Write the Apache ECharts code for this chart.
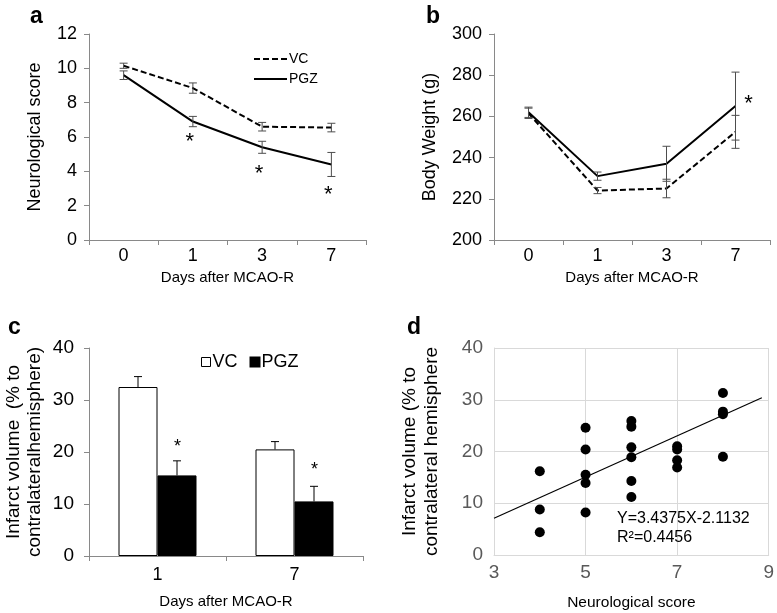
<!DOCTYPE html>
<html>
<head>
<meta charset="utf-8">
<script src="https://cdn.jsdelivr.net/npm/echarts@6/dist/echarts.min.js"></script>
<style>html,body{margin:0;padding:0;background:#fff}#main{width:777px;height:613px}</style>
</head>
<body>
<div id="main"></div>
<script>
// ---- Data ----
const daysA = ['0', '1', '3', '7'];
const vcScore = [10.15, 8.85, 6.6, 6.55];
const vcScoreErr = [0.15, 0.3, 0.25, 0.25];
const pgzScore = [9.6, 6.9, 5.4, 4.4];
const pgzScoreErr = [0.25, 0.3, 0.35, 0.7];
const scoreStarY = [null, 5.7, 3.85, 2.6];

const vcWeight = [261.5, 224, 225, 252.5];
const vcWeightErr = [2.5, 1.5, 4.5, 8];
const pgzWeight = [262, 231, 237, 265];
const pgzWeightErr = [2.5, 2, 8.5, 16.5];
const weightStarY = [null, null, null, 266];

const daysC = ['1', '7'];
const vcInfarct = [32.5, 20.5];
const vcInfarctErr = [2, 1.5];
const pgzInfarct = [15.5, 10.5];
const pgzInfarctErr = [2.8, 2.9];
const infarctStarY = [21, 16.5];

const scatterScore = [4, 4, 4, 5, 5, 5, 5, 5, 6, 6, 6, 6, 6, 6, 7, 7, 7, 7, 8, 8, 8, 8];
const scatterInfarct = [16.2, 8.8, 4.4, 24.6, 20.4, 15.5, 13.9, 8.2, 25.9, 24.8, 20.8, 18.9, 14.3, 11.2, 21.0, 20.4, 18.3, 16.9, 31.3, 27.7, 27.2, 19.0];
const fitX = [3, 8.85];
const fitY = [7.1, 30.4];

const yTicksA = [0, 12, 2];
const yTicksB = [200, 300, 20];
const yTicksC = [0, 40, 10];
const xTicksD = [3, 9, 2];
const yTicksD = [0, 40, 10];

// ---- Helpers ----
const FONT = '"Liberation Sans", Arial, sans-serif';
const AXIS_GRAY = '#898989';
const ERR_GRAY = '#4d4d4d';

function errBars(xi, yi, vals, errs, opts) {
  return {
    type: 'custom', xAxisIndex: xi, yAxisIndex: yi, silent: true, z: 4,
    data: vals.map((v, i) => [i, v, errs[i]]),
    renderItem: function (params, api) {
      const i = api.value(0), v = api.value(1), e = api.value(2);
      const hi = api.coord([i, v + e]);
      const lo = api.coord([i, opts.upOnly ? v : v - e]);
      const x = hi[0] + (opts.offset || 0);
      const c = opts.cap / 2;
      const st = { stroke: opts.color, lineWidth: 1 };
      const ch = [
        { type: 'line', shape: { x1: x, y1: hi[1], x2: x, y2: lo[1] }, style: st },
        { type: 'line', shape: { x1: x - c, y1: hi[1], x2: x + c, y2: hi[1] }, style: st }
      ];
      if (!opts.upOnly) ch.push({ type: 'line', shape: { x1: x - c, y1: lo[1], x2: x + c, y2: lo[1] }, style: st });
      return { type: 'group', children: ch };
    }
  };
}

function stars(xi, yi, ys, opts) {
  return {
    type: 'custom', xAxisIndex: xi, yAxisIndex: yi, silent: true, z: 5,
    data: ys.map((v, i) => [i, v]).filter(d => d[1] != null),
    renderItem: function (params, api) {
      const p = api.coord([api.value(0), api.value(1)]);
      return {
        type: 'text', x: p[0] + (opts.offset || 0), y: p[1],
        style: { text: '*', fontSize: opts.size, fontFamily: FONT, fill: '#000', align: 'center', verticalAlign: 'middle' }
      };
    }
  };
}

function catAxis(gi, data, name, fs, margin, gap) {
  return {
    type: 'category', gridIndex: gi, data: data, boundaryGap: true,
    axisLine: { lineStyle: { color: AXIS_GRAY, width: 1 } },
    axisTick: { show: true, alignWithLabel: false, length: 5, lineStyle: { color: AXIS_GRAY } },
    axisLabel: { fontSize: fs, color: '#000', fontFamily: FONT, margin: margin },
    name: name, nameLocation: 'middle', nameGap: gap,
    nameTextStyle: { fontSize: 15, color: '#000', fontFamily: FONT }
  };
}

function valAxis(gi, t, name, gap, fs, margin, nameSize, lh) {
  return {
    type: 'value', gridIndex: gi, min: t[0], max: t[1], interval: t[2],
    axisLine: { show: true, lineStyle: { color: AXIS_GRAY, width: 1 } },
    axisTick: { show: true, length: 5, lineStyle: { color: AXIS_GRAY } },
    splitLine: { show: false },
    axisLabel: { fontSize: fs, color: '#000', fontFamily: FONT, margin: margin },
    name: name, nameLocation: 'middle', nameRotate: 90, nameGap: gap,
    nameTextStyle: { fontSize: nameSize, color: '#000', fontFamily: FONT, lineHeight: lh }
  };
}

const chart = echarts.init(document.getElementById('main'));
const option = {
  animation: false,
  backgroundColor: '#fff',
  textStyle: { fontFamily: FONT },
  title: [
    { text: 'a', left: 25, top: 0, textStyle: { fontSize: 23, fontWeight: 'bold', color: '#000', fontFamily: FONT } },
    { text: 'b', left: 421, top: 0, textStyle: { fontSize: 23, fontWeight: 'bold', color: '#000', fontFamily: FONT } },
    { text: 'c', left: 3, top: 311, textStyle: { fontSize: 23, fontWeight: 'bold', color: '#000', fontFamily: FONT } },
    { text: 'd', left: 402, top: 311, textStyle: { fontSize: 23, fontWeight: 'bold', color: '#000', fontFamily: FONT } }
  ],
  legend: [
    {
      data: ['VC', 'PGZ'], orient: 'vertical', left: 248, top: 47,
      itemWidth: 33, itemHeight: 14, itemGap: 6,
      itemStyle: { opacity: 0 },
      textStyle: { fontSize: 14, color: '#000', fontFamily: FONT, padding: [0, 0, 0, -3] },
      selectedMode: false
    },
    {
      data: [
        { name: 'VC_bar', icon: 'rect', itemStyle: { color: '#fff', borderColor: '#000', borderWidth: 1 } },
        { name: 'PGZ_bar', icon: 'rect', itemStyle: { color: '#000' } }
      ],
      formatter: n => n.replace('_bar', ''),
      orient: 'horizontal', left: 196, top: 348,
      itemWidth: 9, itemHeight: 9, itemGap: 12,
      textStyle: { fontSize: 18, color: '#000', fontFamily: FONT, padding: [0, 0, 0, -3] },
      selectedMode: false
    }
  ],
  grid: [
    { left: 89, top: 34, width: 277, height: 206 },
    { left: 494, top: 34, width: 276, height: 206 },
    { left: 89, top: 348, width: 274, height: 208 },
    { left: 494, top: 348, width: 277, height: 207 }
  ],
  xAxis: [
    catAxis(0, daysA, 'Days after MCAO-R', 18, 7, 30),
    catAxis(1, daysA, 'Days after MCAO-R', 18, 7, 30),
    catAxis(2, daysC, 'Days after MCAO-R', 18, 10, 38),
    {
      type: 'value', gridIndex: 3, min: xTicksD[0], max: xTicksD[1], interval: xTicksD[2],
      axisLine: { show: true, lineStyle: { color: '#d9d9d9' } },
      axisTick: { show: false },
      splitLine: { show: true, lineStyle: { color: '#d9d9d9', width: 1 } },
      axisLabel: { fontSize: 19, color: '#595959', fontFamily: FONT, margin: 8 },
      name: 'Neurological score', nameLocation: 'middle', nameGap: 40,
      nameTextStyle: { fontSize: 15.5, color: '#000', fontFamily: FONT }
    }
  ],
  yAxis: [
    valAxis(0, yTicksA, 'Neurological score', 43, 18, 12, 18, 22),
    valAxis(1, yTicksB, 'Body Weight (g)', 53, 18, 12, 18, 22),
    valAxis(2, yTicksC, 'Infarct volume  (% to\ncontralateralhemisphere)', 44, 19, 15, 19, 21),
    {
      type: 'value', gridIndex: 3, min: yTicksD[0], max: yTicksD[1], interval: yTicksD[2],
      axisLine: { show: true, lineStyle: { color: '#d9d9d9' } },
      axisTick: { show: false },
      splitLine: { show: true, lineStyle: { color: '#d9d9d9', width: 1 } },
      axisLabel: { fontSize: 19, color: '#595959', fontFamily: FONT, margin: 11 },
      name: 'Infarct volume (% to\ncontralateral hemisphere', nameLocation: 'middle', nameRotate: 90, nameGap: 51,
      nameTextStyle: { fontSize: 19, color: '#000', fontFamily: FONT, lineHeight: 22 }
    }
  ],
  series: [
    // Panel a
    { name: 'VC', type: 'line', xAxisIndex: 0, yAxisIndex: 0, data: vcScore, symbol: 'none', z: 3,
      lineStyle: { color: '#000', width: 2, type: [6, 3] }, itemStyle: { color: '#000' } },
    { name: 'PGZ', type: 'line', xAxisIndex: 0, yAxisIndex: 0, data: pgzScore, symbol: 'none', z: 3,
      lineStyle: { color: '#000', width: 2 }, itemStyle: { color: '#000' } },
    errBars(0, 0, vcScore, vcScoreErr, { cap: 8, color: ERR_GRAY }),
    errBars(0, 0, pgzScore, pgzScoreErr, { cap: 8, color: ERR_GRAY }),
    stars(0, 0, scoreStarY, { size: 22, offset: -3 }),
    // Panel b
    { name: 'VC_bw', type: 'line', xAxisIndex: 1, yAxisIndex: 1, data: vcWeight, symbol: 'none', z: 3,
      lineStyle: { color: '#000', width: 2, type: [6, 3] } },
    { name: 'PGZ_bw', type: 'line', xAxisIndex: 1, yAxisIndex: 1, data: pgzWeight, symbol: 'none', z: 3,
      lineStyle: { color: '#000', width: 2 } },
    errBars(1, 1, vcWeight, vcWeightErr, { cap: 8, color: ERR_GRAY }),
    errBars(1, 1, pgzWeight, pgzWeightErr, { cap: 8, color: ERR_GRAY }),
    stars(1, 1, weightStarY, { size: 22, offset: 13 }),
    // Panel c
    { name: 'VC_bar', type: 'bar', xAxisIndex: 2, yAxisIndex: 2, data: vcInfarct, barWidth: 39, barGap: '0%',
      itemStyle: { color: '#fff', borderColor: '#000', borderWidth: 1 } },
    { name: 'PGZ_bar', type: 'bar', xAxisIndex: 2, yAxisIndex: 2, data: pgzInfarct, barWidth: 39, barGap: '0%',
      itemStyle: { color: '#000', borderColor: '#000', borderWidth: 1 } },
    errBars(2, 2, vcInfarct, vcInfarctErr, { cap: 8, color: '#000', upOnly: true, offset: -19.5 }),
    errBars(2, 2, pgzInfarct, pgzInfarctErr, { cap: 8, color: '#000', upOnly: true, offset: 19.5 }),
    stars(2, 2, infarctStarY, { size: 18, offset: 20 }),
    // Panel d
    { name: 'points', type: 'scatter', xAxisIndex: 3, yAxisIndex: 3, symbolSize: 10,
      data: scatterScore.map((x, i) => [x, scatterInfarct[i]]), itemStyle: { color: '#000', opacity: 1 }, z: 4 },
    { name: 'fit', type: 'line', xAxisIndex: 3, yAxisIndex: 3, symbol: 'none', z: 3,
      data: fitX.map((x, i) => [x, fitY[i]]), lineStyle: { color: '#000', width: 1.2 } }
  ],
  graphic: [
    { type: 'text', left: 617, top: 511, z: 10, style: { text: 'Y=3.4375X-2.1132', fontSize: 16, fontFamily: FONT, fill: '#000' } },
    { type: 'text', left: 617, top: 530, z: 10, style: { text: 'R²=0.4456', fontSize: 16, fontFamily: FONT, fill: '#000' } }
  ]
};
chart.setOption(option);
</script>
</body>
</html>
